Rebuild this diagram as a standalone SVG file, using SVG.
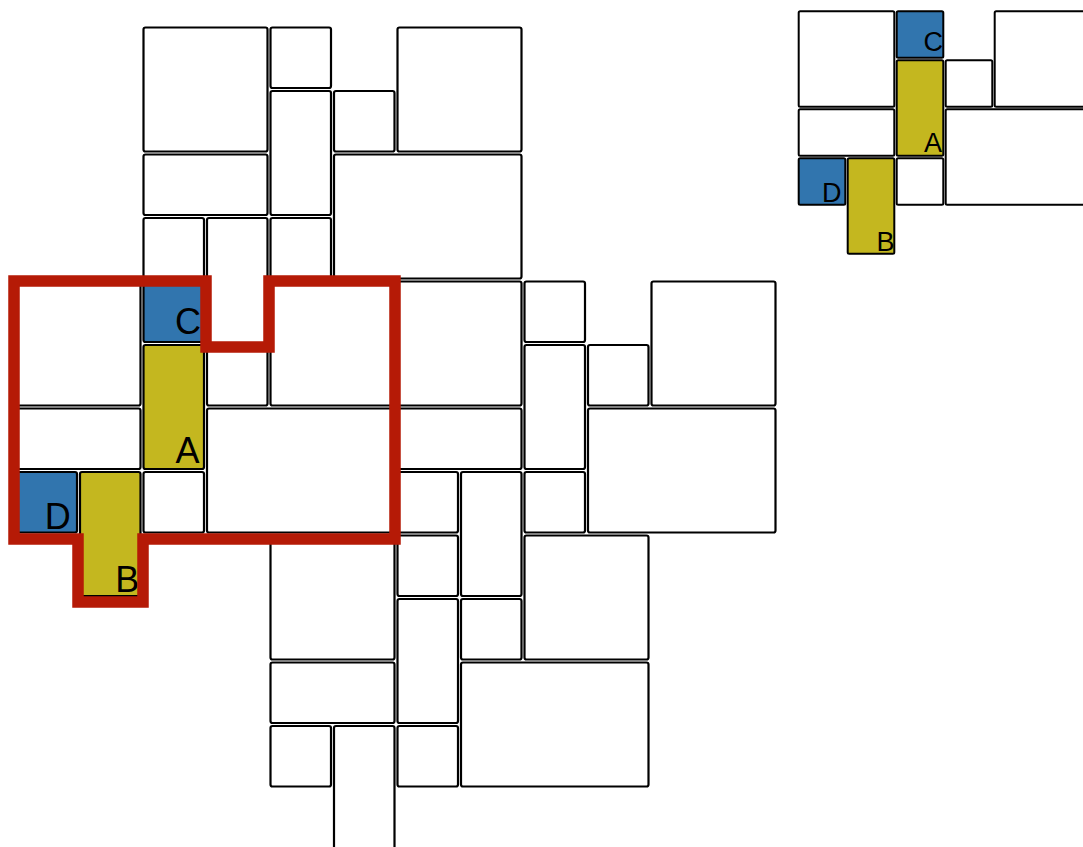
<svg xmlns="http://www.w3.org/2000/svg" width="1083" height="847" viewBox="0 0 1083 847">
<defs>
<style>
.b{fill:#ffffff;stroke:#000000;stroke-width:2.2;}
.m{fill:#ffffff;stroke:#000000;stroke-width:2;}
.blue{fill:#3175ae;}
.yel{fill:#c4b71f;}
.lab{font-family:"Liberation Sans",Arial,sans-serif;font-size:36px;fill:#000000;text-anchor:end;}
.labm{font-family:"Liberation Sans",Arial,sans-serif;font-size:27px;fill:#000000;text-anchor:end;}
.red{fill:none;stroke:#b51a06;stroke-width:11.5;stroke-linejoin:miter;}
</style>
</defs>
<rect width="1083" height="847" fill="#ffffff"/>
<g id="main">
<rect id="n1" class="b" x="143.5" y="27.5" width="124" height="124" rx="2"/>
<rect id="n2" class="b" x="270.5" y="27.5" width="60.5" height="60.5" rx="2"/>
<rect id="n3" class="b" x="270.5" y="91" width="60.5" height="124" rx="2"/>
<rect id="n4" class="b" x="334" y="91" width="60.5" height="60.5" rx="2"/>
<rect id="n5" class="b" x="397.5" y="27.5" width="124" height="124" rx="2"/>
<rect id="n6" class="b" x="143.5" y="154.5" width="124" height="60.5" rx="2"/>
<rect id="n7" class="b" x="334" y="154.5" width="187.5" height="124" rx="2"/>
<rect id="n8" class="b" x="143.5" y="218" width="60.5" height="60.5" rx="2"/>
<rect id="n9" class="b" x="207" y="218" width="60.5" height="187.5" rx="2"/>
<rect id="n10" class="b" x="270.5" y="218" width="60.5" height="60.5" rx="2"/>
<rect id="n11" class="b" x="16.5" y="281.5" width="124" height="124" rx="2"/>
<g id="nC"><rect class="b blue" x="143.5" y="281.5" width="60.5" height="60.5" rx="2"/><text class="lab" x="201" y="334">C</text></g>
<rect id="n13" class="b" x="270.5" y="281.5" width="124" height="124" rx="2"/>
<rect id="n14" class="b" x="397.5" y="281.5" width="124" height="124" rx="2"/>
<rect id="n15" class="b" x="524.5" y="281.5" width="60.5" height="60.5" rx="2"/>
<rect id="n16" class="b" x="651.5" y="281.5" width="124" height="124" rx="2"/>
<g id="nA"><rect class="b yel" x="143.5" y="345" width="60.5" height="124" rx="2"/><text class="lab" x="199.5" y="462.7">A</text></g>
<rect id="n18" class="b" x="524.5" y="345" width="60.5" height="124" rx="2"/>
<rect id="n19" class="b" x="588" y="345" width="60.5" height="60.5" rx="2"/>
<rect id="n20" class="b" x="16.5" y="408.5" width="124" height="60.5" rx="2"/>
<rect id="n21" class="b" x="207" y="408.5" width="187.5" height="124" rx="2"/>
<rect id="n22" class="b" x="397.5" y="408.5" width="124" height="60.5" rx="2"/>
<rect id="n23" class="b" x="588" y="408.5" width="187.5" height="124" rx="2"/>
<g id="nD"><rect class="b blue" x="16.5" y="472" width="60.5" height="60.5" rx="2"/><text class="lab" x="70.8" y="529">D</text></g>
<g id="nB"><rect class="b yel" x="80" y="472" width="60.5" height="124" rx="2"/><text class="lab" x="139.2" y="591.7">B</text></g>
<rect id="n26" class="b" x="143.5" y="472" width="60.5" height="60.5" rx="2"/>
<rect id="n27" class="b" x="397.5" y="472" width="60.5" height="60.5" rx="2"/>
<rect id="n28" class="b" x="461" y="472" width="60.5" height="124" rx="2"/>
<rect id="n29" class="b" x="524.5" y="472" width="60.5" height="60.5" rx="2"/>
<rect id="n30" class="b" x="270.5" y="535.5" width="124" height="124" rx="2"/>
<rect id="n31" class="b" x="397.5" y="535.5" width="60.5" height="60.5" rx="2"/>
<rect id="n32" class="b" x="524.5" y="535.5" width="124" height="124" rx="2"/>
<rect id="n33" class="b" x="397.5" y="599" width="60.5" height="124" rx="2"/>
<rect id="n34" class="b" x="461" y="599" width="60.5" height="60.5" rx="2"/>
<rect id="n35" class="b" x="270.5" y="662.5" width="124" height="60.5" rx="2"/>
<rect id="n36" class="b" x="461" y="662.5" width="187.5" height="124" rx="2"/>
<rect id="n37" class="b" x="270.5" y="726" width="60.5" height="60.5" rx="2"/>
<rect id="n38" class="b" x="334" y="726" width="60.5" height="124" rx="2"/>
<rect id="n39" class="b" x="397.5" y="726" width="60.5" height="60.5" rx="2"/>
</g>
<g id="outline">
<path class="red" d="M14,281 H206 V347 H269 V281 H395 V539 H143 V602 H78 V539 H14 Z"/>
</g>
<g id="mini">
<rect id="m1" class="m" x="798.7" y="11.2" width="95.6" height="95.6" rx="1.5"/>
<g id="mC"><rect class="m blue" x="896.7" y="11.2" width="46.6" height="46.6" rx="1.5"/><text class="labm" x="943" y="50.5">C</text></g>
<g id="mA"><rect class="m yel" x="896.7" y="60.2" width="46.6" height="95.6" rx="1.5"/><text class="labm" x="942" y="151.5">A</text></g>
<rect id="m4" class="m" x="945.7" y="60.2" width="46.6" height="46.6" rx="1.5"/>
<rect id="m5" class="m" x="994.7" y="11.2" width="95.6" height="95.6" rx="1.5"/>
<rect id="m6" class="m" x="798.7" y="109.2" width="95.6" height="46.6" rx="1.5"/>
<rect id="m7" class="m" x="945.7" y="109.2" width="144.6" height="95.6" rx="1.5"/>
<g id="mD"><rect class="m blue" x="798.7" y="158.2" width="46.6" height="46.6" rx="1.5"/><text class="labm" x="841.5" y="201.5">D</text></g>
<g id="mB"><rect class="m yel" x="847.7" y="158.2" width="46.6" height="95.6" rx="1.5"/><text class="labm" x="894.5" y="250.5">B</text></g>
<rect id="m10" class="m" x="896.7" y="158.2" width="46.6" height="46.6" rx="1.5"/>
</g>
</svg>
